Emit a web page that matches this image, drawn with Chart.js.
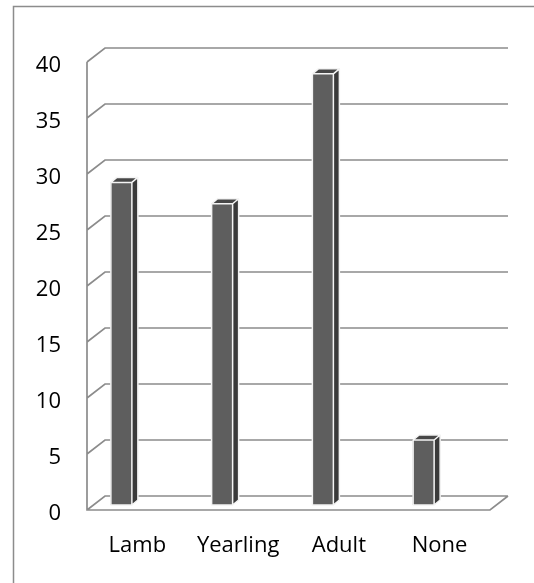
<!DOCTYPE html>
<html>
<head>
<meta charset="utf-8">
<script src="https://cdn.jsdelivr.net/npm/chart.js@4/dist/chart.umd.min.js"></script>
<style>
  html, body { margin: 0; padding: 0; background: #ffffff; }
  #wrap { position: relative; width: 534px; height: 583px; overflow: hidden; }
</style>
</head>
<body>
<div id="wrap"><canvas id="chart" width="534" height="583"></canvas></div>
<script>
// Categories and percentage values
const categories = ['Lamb', 'Yearling', 'Adult', 'None'];
const values = [28.8, 26.9, 38.5, 5.8];
// Value axis ticks
const yMin = 0;
const yMax = 40;
const yStep = 5;

// 3-D look: wall depth, bar depth and where the bar row sits inside the box
const WALL_DX = 18, WALL_DY = 14;
const BAR_DX = 6, BAR_DY = 5;
const ROW_SHIFT_X = -16, ROW_SHIFT_Y = -5;

const GRID_COLOR = '#8c8c8c';
const FRONT_COLOR = '#5e5e5e';
const SIDE_COLOR = '#3a3a3a';
const TOP_COLOR = '#474747';

const depthPlugin = {
  id: 'depth3d',
  beforeDraw(chart) {
    const ctx = chart.ctx;
    ctx.save();
    ctx.strokeStyle = '#8c8c8c';
    ctx.lineWidth = 1.5;
    ctx.strokeRect(13.5, 6.5, 700, 700);
    ctx.restore();
  },
  beforeDatasetsDraw(chart) {
    const { ctx, chartArea: a } = chart;
    const y = chart.scales.y;
    ctx.save();
    ctx.strokeStyle = GRID_COLOR;
    ctx.lineWidth = 1.7;
    ctx.lineCap = 'butt';
    ctx.beginPath();
    // back wall lines and left wall diagonals
    y.ticks.forEach(t => {
      const py = y.getPixelForValue(t.value);
      ctx.moveTo(a.left, py);
      ctx.lineTo(a.left + WALL_DX, py - WALL_DY);
      ctx.lineTo(a.right + WALL_DX, py - WALL_DY);
    });
    // left wall front edge
    ctx.moveTo(a.left, y.getPixelForValue(yMax));
    ctx.lineTo(a.left, y.getPixelForValue(yMin));
    // floor front edge and right diagonal
    const base = y.getPixelForValue(yMin);
    ctx.lineTo(a.right, base);
    ctx.lineTo(a.right + WALL_DX, base - WALL_DY);
    ctx.stroke();
    ctx.restore();

    ctx.save();
    ctx.translate(ROW_SHIFT_X, ROW_SHIFT_Y);
  },
  afterDatasetsDraw(chart) {
    const ctx = chart.ctx;
    const meta = chart.getDatasetMeta(0);
    meta.data.forEach(bar => {
      const { x, y, base, width } = bar.getProps(['x', 'y', 'base', 'width'], true);
      const l = x - width / 2, r = x + width / 2;
      // right side face
      ctx.beginPath();
      ctx.moveTo(r, y);
      ctx.lineTo(r + BAR_DX, y - BAR_DY);
      ctx.lineTo(r + BAR_DX, base - BAR_DY);
      ctx.lineTo(r, base);
      ctx.closePath();
      ctx.fillStyle = SIDE_COLOR;
      ctx.fill();
      // top face
      ctx.beginPath();
      ctx.moveTo(l, y);
      ctx.lineTo(l + BAR_DX, y - BAR_DY);
      ctx.lineTo(r + BAR_DX, y - BAR_DY);
      ctx.lineTo(r, y);
      ctx.closePath();
      ctx.fillStyle = TOP_COLOR;
      ctx.fill();
      // light edges around the column
      ctx.strokeStyle = '#f4f4f4';
      ctx.lineWidth = 1.5;
      ctx.lineJoin = 'round';
      ctx.beginPath();
      ctx.moveTo(l, base);
      ctx.lineTo(l, y);
      ctx.lineTo(l + BAR_DX, y - BAR_DY);
      ctx.lineTo(r + BAR_DX, y - BAR_DY);
      ctx.lineTo(r + BAR_DX, base - BAR_DY);
      ctx.lineTo(r, base);
      ctx.closePath();
      ctx.moveTo(r, base);
      ctx.lineTo(r, y);
      ctx.lineTo(l, y);
      ctx.moveTo(r, y);
      ctx.lineTo(r + BAR_DX, y - BAR_DY);
      ctx.stroke();
    });
    ctx.restore();
  }
};

const font = { family: "'Open Sans', sans-serif", size: 22 };

new Chart(document.getElementById('chart'), {
  type: 'bar',
  data: {
    labels: categories,
    datasets: [{
      data: values,
      backgroundColor: FRONT_COLOR,
      borderWidth: 0,
      barThickness: 21
    }]
  },
  options: {
    responsive: false,
    devicePixelRatio: 1,
    animation: false,
    layout: { padding: { left: 0, top: 62, right: 44, bottom: 0 } },
    plugins: { legend: { display: false }, tooltip: { enabled: false } },
    scales: {
      x: {
        grid: { display: false, drawTicks: false },
        border: { display: false },
        ticks: { color: '#000000', font, padding: 23 },
        afterFit(s) { s.height = 73; }
      },
      y: {
        min: yMin,
        max: yMax,
        grid: { display: false, drawTicks: false },
        border: { display: false },
        ticks: { stepSize: yStep, color: '#000000', font, padding: 26, labelOffset: 4 },
        afterFit(s) { s.width = 87; }
      }
    }
  },
  plugins: [depthPlugin]
});
</script>
</body>
</html>
